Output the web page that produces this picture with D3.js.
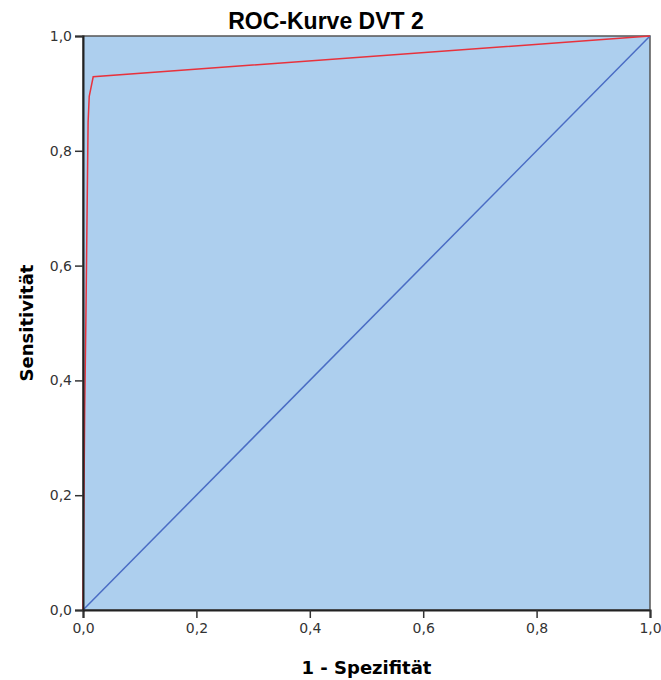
<!DOCTYPE html>
<html>
<head>
<meta charset="utf-8">
<script src="https://cdn.jsdelivr.net/npm/d3@7"></script>
<style>
  body { margin: 0; background: #fff; }
  svg { display: block; }
</style>
</head>
<body>
<svg id="chart"></svg>
<script>
const title = "ROC-Kurve DVT 2";
const xTitle = "1 - Spezifität";
const yTitle = "Sensitivität";
const tickValues = [0, 0.2, 0.4, 0.6, 0.8, 1.0];

// ROC curve
const fpr = [0, 0.003, 0.005, 0.009, 0.011, 0.018, 1.0];
const tpr = [0, 0.35, 0.50, 0.85, 0.895, 0.929, 1.0];
// reference line
const refX = [0, 1];
const refY = [0, 1];

const W = 661, H = 680;
const margin = {top: 36, right: 11, bottom: 70, left: 83};
const width = W - margin.left - margin.right,
      height = H - margin.top - margin.bottom;

const svg = d3.select("#chart").attr("width", W).attr("height", H);

const x = d3.scaleLinear().domain([0, 1]).range([0, width]);
const y = d3.scaleLinear().domain([0, 1]).range([height, 0]);
const fmt = d => d3.format(".1f")(d).replace(".", ",");

const g = svg.append("g")
    .attr("transform", "translate(" + margin.left + "," + margin.top + ")");

g.append("rect")
    .attr("width", width).attr("height", height)
    .attr("fill", "#adcfee")
    .attr("stroke", "#555").attr("stroke-width", 1.5);

const line = d3.line().x(d => x(d[0])).y(d => y(d[1]));

g.append("path")
    .datum(d3.zip(refX, refY))
    .attr("fill", "none").attr("stroke", "#4a6cc4").attr("stroke-width", 1.5)
    .attr("d", line);

g.append("path")
    .datum(d3.zip(fpr, tpr))
    .attr("fill", "none").attr("stroke", "#e8323c").attr("stroke-width", 1.5)
    .attr("d", line);

const xAxis = g.append("g")
    .attr("transform", "translate(0," + height + ")")
    .call(d3.axisBottom(x).tickValues(tickValues).tickFormat(fmt).tickSize(8).tickPadding(5));
const yAxis = g.append("g")
    .call(d3.axisLeft(y).tickValues(tickValues).tickFormat(fmt).tickSize(8).tickPadding(3));

[xAxis, yAxis].forEach(a => {
  a.select(".domain").attr("stroke", "#222").attr("stroke-width", 2);
  a.selectAll(".tick line").attr("stroke", "#333").attr("stroke-width", 1.5);
  a.selectAll(".tick text")
      .attr("fill", "#333")
      .style("font-family", "'DejaVu Sans', sans-serif")
      .style("font-size", "14px");
});

svg.append("text")
    .attr("x", 326).attr("y", 29)
    .attr("text-anchor", "middle")
    .style("font-family", "'Liberation Sans', Arial, sans-serif")
    .style("font-size", "23px").style("font-weight", "bold")
    .text(title);

svg.append("text")
    .attr("x", margin.left + width / 2).attr("y", 674)
    .attr("text-anchor", "middle")
    .style("font-family", "'DejaVu Sans', sans-serif")
    .style("font-size", "18px").style("font-weight", "bold")
    .text(xTitle);

svg.append("text")
    .attr("transform", "translate(33," + (margin.top + height / 2) + ") rotate(-90)")
    .attr("text-anchor", "middle")
    .style("font-family", "'DejaVu Sans', sans-serif")
    .style("font-size", "18px").style("font-weight", "bold")
    .text(yTitle);
</script>
</body>
</html>
